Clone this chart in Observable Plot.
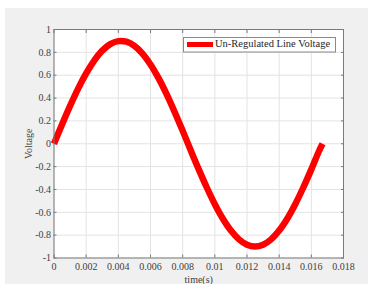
<!DOCTYPE html>
<html>
<head>
<meta charset="utf-8">
<script src="https://cdn.jsdelivr.net/npm/d3@7"></script>
<script src="https://cdn.jsdelivr.net/npm/@observablehq/plot@0.6"></script>
<style>
  html, body { margin: 0; padding: 0; background: #ffffff; }
  #wrap { position: relative; width: 373px; height: 284px; overflow: hidden; }
  #bg { position: absolute; left: 5px; top: 8px; width: 363px; height: 276px; background: #f0f0f0; }
  #chart { position: absolute; left: 0; top: 0; }
  #chart svg { background: transparent; }
</style>
</head>
<body>
<div id="wrap"><div id="bg"></div><div id="chart"></div></div>
<script>
const time = [0, 0.0005, 0.001, 0.0015, 0.002, 0.0025, 0.003, 0.0035, 0.004, 0.0045, 0.005, 0.0055, 0.006, 0.0065, 0.007, 0.0075, 0.008, 0.0085, 0.009, 0.0095, 0.010, 0.0105, 0.011, 0.0115, 0.012, 0.0125, 0.013, 0.0135, 0.014, 0.0145, 0.015, 0.0155, 0.016, 0.0165, 0.0167];
const voltage = [0, 0.169, 0.331, 0.482, 0.616, 0.728, 0.815, 0.872, 0.898, 0.893, 0.856, 0.789, 0.694, 0.574, 0.434, 0.278, 0.113, -0.057, -0.224, -0.383, -0.529, -0.656, -0.760, -0.837, -0.884, -0.900, -0.884, -0.837, -0.760, -0.656, -0.529, -0.383, -0.224, -0.057, 0];
const xTicks = [0, 0.002, 0.004, 0.006, 0.008, 0.01, 0.012, 0.014, 0.016, 0.018];
const yTicks = [-1, -0.8, -0.6, -0.4, -0.2, 0, 0.2, 0.4, 0.6, 0.8, 1];
const seriesName = "Un-Regulated Line Voltage";
const xLabel = "time(s)";
const yLabel = "Voltage";

const data = time.map((t, i) => ({t, v: voltage[i]}));
const fmt = d => String(Math.round(d * 1000) / 1000);
const blank = () => "";
const axisColor = "#7a7a7a";
const font = "'Liberation Serif', 'Times New Roman', serif";

const chart = Plot.plot({
  width: 373,
  height: 284,
  marginLeft: 53.5,
  marginRight: 30,
  marginTop: 29,
  marginBottom: 26.5,
  style: {fontFamily: font, fontSize: "9px", color: "#404040", background: "transparent"},
  x: {domain: [0, 0.018]},
  y: {domain: [-1, 1]},
  marks: [
    Plot.frame({fill: "white", stroke: null}),
    Plot.gridX(xTicks, {stroke: "#e3e3e3", strokeOpacity: 1}),
    Plot.gridY(yTicks, {stroke: "#e3e3e3", strokeOpacity: 1}),
    Plot.axisX(xTicks, {anchor: "bottom", tickSize: -3, tickPadding: 8, stroke: axisColor, tickFormat: fmt, label: xLabel, labelAnchor: "center", labelArrow: "none", labelOffset: 25, fontSize: 10}),
    Plot.axisX(xTicks, {anchor: "top", tickSize: -3, stroke: axisColor, tickFormat: blank, label: null}),
    Plot.axisY(yTicks, {anchor: "left", tickSize: -3, tickPadding: 6, stroke: axisColor, tickFormat: fmt, label: yLabel, labelAnchor: "center", labelArrow: "none", labelOffset: 29, fontSize: 10}),
    Plot.axisY(yTicks, {anchor: "right", tickSize: -3, stroke: axisColor, tickFormat: blank, label: null}),
    Plot.line(data, {x: "t", y: "v", stroke: "#ff0000", strokeWidth: 6.5, curve: "catmull-rom", strokeLinecap: "butt", strokeLinejoin: "round"}),
    Plot.frame({stroke: axisColor, strokeWidth: 1})
  ]
});
document.getElementById("chart").appendChild(chart);

// Legend box (top-right, inside plot area)
const svg = d3.select(chart);
const lg = svg.append("g").attr("font-family", font).attr("text-anchor", "start");
lg.append("rect").attr("x", 183.5).attr("y", 37.5).attr("width", 152).attr("height", 14.5)
  .attr("fill", "white").attr("stroke", "#8a8a8a").attr("stroke-width", 1);
lg.append("line").attr("x1", 187).attr("x2", 213).attr("y1", 44.5).attr("y2", 44.5)
  .attr("stroke", "#ff0000").attr("stroke-width", 5);
lg.append("text").attr("x", 215).attr("y", 44.8).attr("dominant-baseline", "middle").attr("text-anchor", "start")
  .attr("font-size", "10.5px").attr("fill", "#262626").text(seriesName);
</script>
</body>
</html>
